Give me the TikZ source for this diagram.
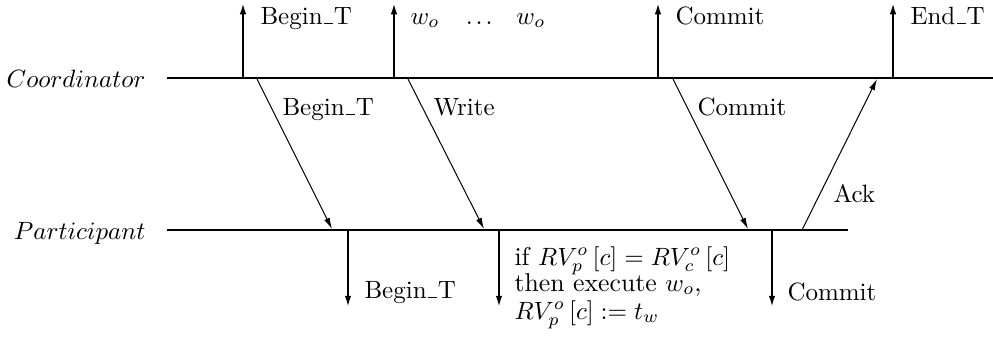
\documentclass[tikz,border=0pt]{standalone}
\usetikzlibrary{arrows.meta}
\newcommand{\usc}{\kern.06em\rule{.36em}{0.6pt}\kern.03em}
\begin{document}
\begin{tikzpicture}[x=0.4pt,y=-0.4pt,
  timeline/.style={line width=0.8pt},
  event/.style={line width=0.8pt,-{Latex[length=4.5pt,width=2.6pt]}},
  msg/.style={line width=0.4pt,-{Latex[length=4.5pt,width=2.4pt]}},
  lbl/.style={inner sep=0pt,anchor=base west},
  cond/.style={lbl,font=\fontsize{10.3}{12.4}\selectfont},
  role/.style={inner sep=0pt,anchor=base east}]
\useasboundingbox (0,0) rectangle (993,341);
% timelines
\coordinate (c0) at (167,78);
\coordinate (c1) at (993,78);
\coordinate (p0) at (167,230);
\coordinate (p1) at (848,230);
\draw[timeline] (c0) -- (c1);
\draw[timeline] (p0) -- (p1);
\node[role] (coord) at (146,87) {$Coordinator$};
\node[role] (part) at (146,239) {$Participant$};
% coordinator events
\coordinate (cb) at (243,78); \coordinate (cbt) at (243,3);
\coordinate (cw) at (394,78); \coordinate (cwt) at (394,3);
\coordinate (cc) at (658,78); \coordinate (cct) at (658,3);
\coordinate (ce) at (893,78); \coordinate (cet) at (893,3);
\draw[event] (cb) -- (cbt);
\draw[event] (cw) -- (cwt);
\draw[event] (cc) -- (cct);
\draw[event] (ce) -- (cet);
\node[lbl] (lcb) at (260,24) {Begin\usc T};
\node[lbl] (lcw) at (410,24) {$w_o$\hspace{10.5pt}.\hspace{1.2pt}.\hspace{1.2pt}.\hspace{9.5pt}$w_o$};
\node[lbl] (lcc) at (675,24) {Commit};
\node[lbl] (lce) at (910,24) {End\usc T};
% participant events
\coordinate (pb) at (348,230); \coordinate (pbt) at (348,307);
\coordinate (pw) at (499,230); \coordinate (pwt) at (499,307);
\coordinate (pc) at (772,230); \coordinate (pct) at (772,307);
\draw[event] (pb) -- (pbt);
\draw[event] (pw) -- (pwt);
\draw[event] (pc) -- (pct);
\node[lbl] (lpb) at (364,298) {Begin\usc T};
\node[cond] (lpw1) at (514,265) {if $RV_p^o\,[c] = RV_c^o\,[c]$};
\node[cond] (lpw2) at (514,291) {then execute $w_o$,};
\node[cond] (lpw3) at (514,319) {$RV_p^o\,[c] := t_w$};
\node[lbl] (lpc) at (787,300) {Commit};
% messages
\coordinate (m1s) at (257,79); \coordinate (m1e) at (332,229);
\coordinate (m2s) at (408,79); \coordinate (m2e) at (484,229);
\coordinate (m3s) at (673,79); \coordinate (m3e) at (748,229);
\coordinate (m4s) at (802,230); \coordinate (m4e) at (877,79);
\draw[msg] (m1s) -- (m1e);
\draw[msg] (m2s) -- (m2e);
\draw[msg] (m3s) -- (m3e);
\draw[msg] (m4s) -- (m4e);
\node[lbl] (l1) at (282,115) {Begin\usc T};
\node[lbl] (l2) at (433,115) {Write};
\node[lbl] (l3) at (697,115) {Commit};
\node[lbl] (l4) at (833,202) {Ack};
\end{tikzpicture}
\end{document}
